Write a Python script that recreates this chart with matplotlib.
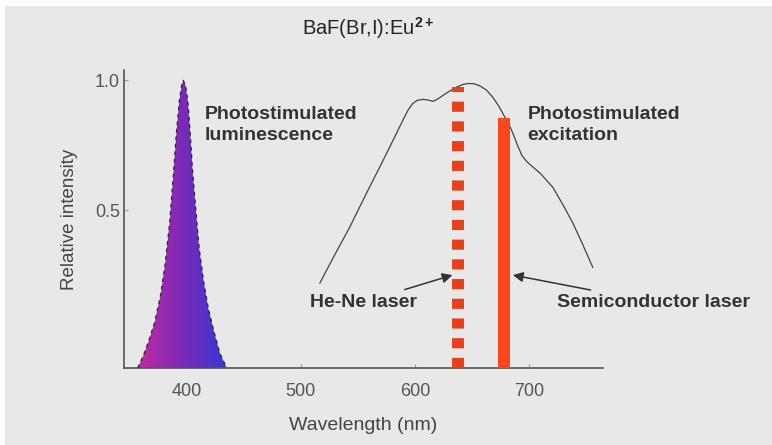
import numpy as np
import matplotlib.pyplot as plt
from matplotlib.patches import Rectangle
from matplotlib.colors import LinearSegmentedColormap

plt.rcParams['font.family'] = ['Liberation Sans', 'DejaVu Sans']
plt.rcParams['mathtext.fontset'] = 'custom'
plt.rcParams['mathtext.rm'] = 'Liberation Sans'
plt.rcParams['mathtext.bf'] = 'Liberation Sans:bold'

# photostimulated luminescence
lum_wl = [357, 362, 367, 372, 377, 381, 385, 388, 391, 393.5, 395.5, 397, 399, 401,
          403, 405, 408, 411, 415, 419, 424, 429, 435]
lum_int = [-0.108, -0.06, 0.0, 0.07, 0.17, 0.29, 0.45, 0.62, 0.80, 0.92, 0.98, 1.0, 0.98,
           0.92, 0.80, 0.66, 0.50, 0.35, 0.22, 0.12, 0.03, -0.05, -0.108]

# photostimulated excitation
exc_wl = [516.7, 530, 543, 557, 572, 581, 589.5, 594, 598, 602, 607, 612, 616, 620,
          624.6, 631, 637, 642, 646.5, 652, 657, 663, 668.4, 674, 679, 683, 686, 690,
          694, 698, 702, 710, 721, 730, 738.6, 747, 756]
exc_int = [0.219, 0.33, 0.435, 0.56, 0.69, 0.77, 0.846, 0.885, 0.91, 0.923, 0.927, 0.924,
           0.919, 0.928, 0.942, 0.96, 0.975, 0.984, 0.988, 0.987, 0.979, 0.962, 0.935,
           0.898, 0.858, 0.826, 0.796, 0.75, 0.71, 0.688, 0.672, 0.642, 0.588, 0.52, 0.45,
           0.37, 0.28]

# lasers
laser_names = ['He-Ne laser', 'Semiconductor laser']
laser_wl = [638, 678]
laser_top = [0.975, 0.854]

base = -0.108
txt = '#333333'

fig = plt.figure(figsize=(7.72, 4.45), dpi=100)
fig.patch.set_facecolor('white')
fig.patches.append(Rectangle((5 / 772, 0), 1, 1 - 6 / 445, transform=fig.transFigure,
                             facecolor='#e8e8e8', edgecolor='none', zorder=-10))

ax = fig.add_axes([124 / 772, 77 / 445, 479 / 772, 298 / 445])
ax.set_facecolor('none')
ax.set_xlim(345, 765)
ax.set_ylim(base, 1.04)

# gradient-filled luminescence peak
cmap = LinearSegmentedColormap.from_list('pl', ['#c02aa0', '#7a2ab8', '#3438d2'])
poly = ax.fill_between(lum_wl, base, lum_int, facecolor='none', edgecolor='none')
grad = np.linspace(0, 1, 256).reshape(1, -1)
im = ax.imshow(grad, cmap=cmap, aspect='auto', extent=[min(lum_wl), max(lum_wl), base, 1.0],
               zorder=2)
im.set_clip_path(poly.get_paths()[0], transform=ax.transData)
ax.plot(lum_wl, lum_int, color='#302040', lw=0.9, ls=(0, (3, 3)), zorder=3)

# excitation curve
ax.plot(exc_wl, exc_int, color='#444444', lw=0.9, zorder=3)

# lasers
ax.plot([laser_wl[0], laser_wl[0]], [base, laser_top[0]], color='#e8401a', lw=8.6,
        ls=(0, (0.85, 0.8)), solid_capstyle='butt', zorder=4)
ax.plot([laser_wl[1], laser_wl[1]], [base, laser_top[1]], color='#fb451c', lw=8.6,
        solid_capstyle='butt', zorder=4)

arrow = dict(arrowstyle='-|>', color='#333333', lw=1.1, mutation_scale=15,
             shrinkA=3, shrinkB=0)
ax.annotate(laser_names[0], xy=(633, 0.25), xytext=(602, 0.146),
            ha='right', va='center', fontsize=14, fontweight='bold', color=txt,
            arrowprops=arrow)
ax.annotate(laser_names[1], xy=(686, 0.25), xytext=(724.5, 0.146),
            ha='left', va='center', fontsize=14, fontweight='bold', color=txt,
            arrowprops=arrow)

ax.text(415.5, 0.9, 'Photostimulated\nluminescence', ha='left', va='top', fontsize=14,
        fontweight='bold', color=txt, linespacing=1.3)
ax.text(699, 0.9, 'Photostimulated\nexcitation', ha='left', va='top', fontsize=14,
        fontweight='bold', color=txt, linespacing=1.3)

ax.set_xticks([400, 500, 600, 700])
ax.set_yticks([0.5, 1.0])
ax.set_yticklabels(['0.5', '1.0'])
ax.tick_params(direction='in', length=3, color='#999999', labelcolor='#555555',
               labelsize=13)
ax.tick_params(axis='x', pad=11)
ax.tick_params(axis='y', pad=3)
for s in ['top', 'right']:
    ax.spines[s].set_visible(False)
for s in ['left', 'bottom']:
    ax.spines[s].set_color('#555555')
    ax.spines[s].set_linewidth(1.2)

ax.set_xlabel('Wavelength (nm)', fontsize=14, color='#444444', labelpad=12)
ax.set_ylabel('Relative intensity', fontsize=13.5, color='#444444', labelpad=12)

fig.text(368 / 772, 1 - 28 / 445, r'BaF(Br,I):Eu$^{\mathbf{2+}}$', ha='center',
         va='center', fontsize=14.5, color='#222222')

plt.savefig('out.png', dpi=100)
